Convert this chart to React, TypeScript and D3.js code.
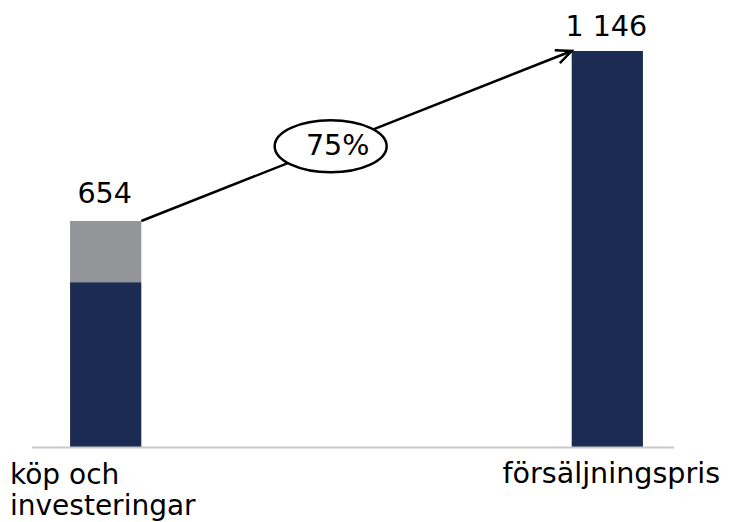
import React from "react";
import * as d3 from "d3";

// Categories and values (MSEK)
const categories = ["köp och investeringar", "försäljningspris"];
const categoryLines = [["köp och", "investeringar"], ["försäljningspris"]];
const baseValues = [477, 1146];   // navy part
const extraValues = [177, 0];     // grey part (investeringar)
const totalLabels = ["654", "1 146"];

const W = 739;
const H = 522;
const NAVY = "#1b2b52";
const GREY = "#939598";
const FONT = "'DejaVu Sans', Verdana, sans-serif";
const FS = 28.6;

export default function App() {
  const totals = baseValues.map((v, i) => v + extraValues[i]);

  const x = d3
    .scaleBand<string>()
    .domain(categories)
    .range([35, 678])
    .paddingInner(0.858)
    .paddingOuter(0.0699);

  const y = d3.scaleLinear().domain([0, 1146]).range([447, 51]);
  const bw = x.bandwidth();

  // Growth arrow from top of first bar to top of second bar
  const x1 = (x(categories[0]) as number) + bw;
  const y1 = y(totals[0]);
  const x2 = x(categories[1]) as number;
  const y2 = y(totals[1]);
  const ang = Math.atan2(y2 - y1, x2 - x1);
  const head = 17;
  const spread = 0.42;
  const h1 = [x2 - head * Math.cos(ang - spread), y2 - head * Math.sin(ang - spread)];
  const h2 = [x2 - head * Math.cos(ang + spread), y2 - head * Math.sin(ang + spread)];

  const growth = Math.round((totals[1] / totals[0] - 1) * 100);
  const t = 0.44;
  const ex = x1 + (x2 - x1) * t;
  const ey = y1 + (y2 - y1) * t;

  return (
    <svg width={W} height={H} style={{ position: "absolute", left: 0, top: 0 }} fontFamily={FONT}>
      <rect width={W} height={H} fill="#fff" />
      {categories.map((c, i) => (
        <g key={c}>
          <rect x={x(c)} y={y(baseValues[i])} width={bw} height={y(0) - y(baseValues[i])} fill={NAVY} />
          {extraValues[i] > 0 && (
            <rect
              x={x(c)}
              y={y(totals[i])}
              width={bw}
              height={y(baseValues[i]) - y(totals[i])}
              fill={GREY}
            />
          )}
          <text
            x={(x(c) as number) + bw / 2 - 1}
            y={y(totals[i]) - (i === 0 ? 18 : 15)}
            textAnchor="middle"
            fontSize={FS}
            fill="#000"
          >
            {totalLabels[i]}
          </text>
        </g>
      ))}

      {/* baseline */}
      <line x1={32} x2={674} y1={y(0) + 0.5} y2={y(0) + 0.5} stroke="#c8c8c8" strokeWidth={2} />

      {/* category labels */}
      {categoryLines[0].map((l, k) => (
        <text key={k} x={10} y={484 + k * 31} fontSize={28} fill="#000">
          {l}
        </text>
      ))}
      <text
        x={(x(categories[1]) as number) + bw / 2 + 4}
        y={483}
        textAnchor="middle"
        fontSize={FS}
        fill="#000"
      >
        {categoryLines[1][0]}
      </text>

      {/* growth arrow */}
      <line x1={x1} y1={y1} x2={x2} y2={y2} stroke="#000" strokeWidth={2.5} />
      <polyline
        points={`${h1[0]},${h1[1]} ${x2},${y2} ${h2[0]},${h2[1]}`}
        fill="none"
        stroke="#000"
        strokeWidth={2.5}
      />
      <ellipse cx={ex} cy={ey} rx={56} ry={26} fill="#fff" stroke="#000" strokeWidth={2.5} />
      <text x={ex + 7} y={ey + 9} textAnchor="middle" fontSize={FS} fill="#000">
        {growth}%
      </text>
    </svg>
  );
}
